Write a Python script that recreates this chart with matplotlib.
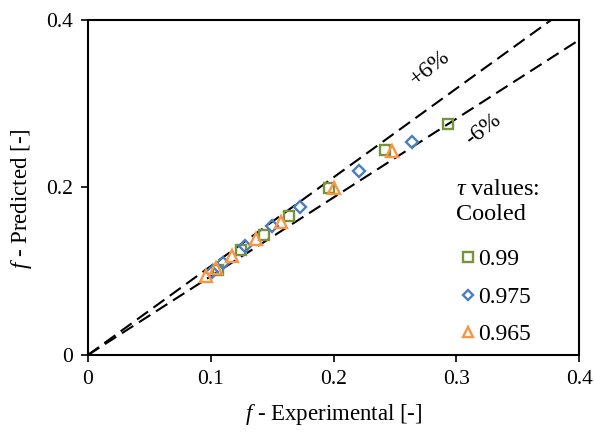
import matplotlib
matplotlib.use('Agg')
import matplotlib.pyplot as plt
import numpy as np

plt.rcParams['font.family'] = ['Liberation Serif', 'DejaVu Serif']
plt.rcParams['mathtext.fontset'] = 'custom'
plt.rcParams['mathtext.rm'] = 'Liberation Serif'
plt.rcParams['mathtext.it'] = 'Liberation Serif:italic'

# tau = 0.99 (cooled)
x_099 = [0.106, 0.125, 0.143, 0.164, 0.196, 0.242, 0.293]
y_099 = [0.102, 0.125, 0.143, 0.166, 0.199, 0.245, 0.276]
# tau = 0.975
x_0975 = [0.101, 0.110, 0.128, 0.150, 0.173, 0.221, 0.264]
y_0975 = [0.099, 0.110, 0.130, 0.154, 0.177, 0.220, 0.254]
# tau = 0.965
x_0965 = [0.096, 0.104, 0.117, 0.137, 0.157, 0.200, 0.248]
y_0965 = [0.094, 0.104, 0.118, 0.138, 0.159, 0.199, 0.244]

band = [1.06, 0.94]
line_x = [0, 0.4]

fig = plt.figure(figsize=(5.94, 4.41), dpi=100)
ax = fig.add_axes([0.148, 0.195, 0.827, 0.760])

for b in band:
    ax.plot(line_x, [v * b for v in line_x], color='black', lw=1.5,
            ls=(0, (6.5, 3.2)), zorder=1)

ax.plot(x_099, y_099, 's', ms=7.8, mfc='none', mec='#77933C', mew=1.7,
        label='0.99', zorder=3)
ax.plot(x_0975, y_0975, 'D', ms=5.7, mfc='none', mec='#4A7EBB', mew=1.7,
        label='0.975', zorder=3)
ax.plot(x_0965, y_0965, '^', ms=8.3, mfc='none', mec='#F79646', mew=1.7,
        label='0.965', zorder=3)

ax.set_xlim(0, 0.4)
ax.set_ylim(0, 0.4)
ax.set_xticks([0, 0.1, 0.2, 0.3, 0.4])
ax.set_xticklabels(['0', '0.1', '0.2', '0.3', '0.4'])
ax.set_yticks([0, 0.2, 0.4])
ax.set_yticklabels(['0', '0.2', '0.4'])
ax.tick_params(direction='out', length=5, width=1.2, labelsize=15.5, pad=6)
for s in ax.spines.values():
    s.set_linewidth(1.5)

ax.set_xlabel(r'$f$ - Experimental [-]', fontsize=16.5, labelpad=9)
ax.set_ylabel(r'$f$ - Predicted [-]', fontsize=16.5)
ax.yaxis.set_label_coords(-0.11, 0.465)

ax.text(0.2786, 0.342, '+6%', fontsize=17, rotation=38, ha='center', va='center')
ax.text(0.322, 0.269, '-6%', fontsize=17, rotation=38, ha='center', va='center')

ax.text(0.2994, 0.197, r'$\tau$ values:', fontsize=17.5, ha='left', va='center')
ax.text(0.2994, 0.168, 'Cooled', fontsize=17.5, ha='left', va='center')

ax.legend(loc='upper left', bbox_to_anchor=(0.760, 0.317), frameon=False,
          fontsize=17, handlelength=0.6, handletextpad=0.1, labelspacing=0.68,
          borderaxespad=0, borderpad=0, markerscale=0.85)

fig.savefig('out.png', dpi=100)
